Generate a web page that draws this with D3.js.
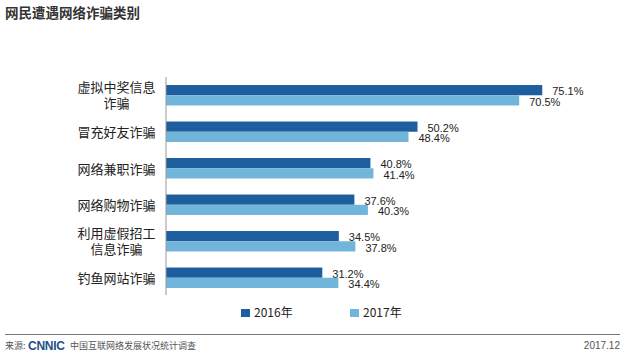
<!DOCTYPE html>
<html>
<head>
<meta charset="utf-8">
<script src="https://cdn.jsdelivr.net/npm/d3@7"></script>
<style>
  body { margin: 0; background: #fff; }
  svg { display: block; font-family: "Noto Sans CJK SC", "Liberation Sans", sans-serif; }
</style>
</head>
<body>
<div id="chart"></div>
<script>
// chart data
const categories = ["虚拟中奖信息\n诈骗", "冒充好友诈骗", "网络兼职诈骗", "网络购物诈骗", "利用虚假招工\n信息诈骗", "钓鱼网站诈骗"];
const seriesNames = ["2016年", "2017年"];
const values2016 = [75.1, 50.2, 40.8, 37.6, 34.5, 31.2];
const values2017 = [70.5, 48.4, 41.4, 40.3, 37.8, 34.4];
const colors = ["#1d5e9f", "#72b5da"];

const width = 630, height = 359;

const svg = d3.select("#chart")
    .append("svg")
    .attr("width", width)
    .attr("height", height);

// title
svg.append("text")
    .attr("x", 5)
    .attr("y", 18)
    .attr("font-size", 13.5)
    .attr("font-weight", "bold")
    .attr("fill", "#333")
    .text("网民遭遇网络诈骗类别");

// scales
const xScale = d3.scaleLinear()
    .domain([0, 100])
    .range([166, 667]);

const yScale = d3.scaleBand()
    .domain(categories)
    .range([77, 296])
    .paddingInner(0.44)
    .paddingOuter(0.22);

const ySub = d3.scaleBand()
    .domain(seriesNames)
    .range([0, yScale.bandwidth()]);

const series = [values2016, values2017];

// bars + value labels
series.forEach((vals, si) => {
    const g = svg.append("g");
    g.selectAll("rect")
        .data(vals)
        .join("rect")
        .attr("x", xScale(0))
        .attr("y", (d, i) => yScale(categories[i]) + ySub(seriesNames[si]))
        .attr("width", d => xScale(d) - xScale(0))
        .attr("height", ySub.bandwidth())
        .attr("fill", colors[si]);

    g.selectAll("text")
        .data(vals)
        .join("text")
        .attr("x", d => xScale(d) + 10)
        .attr("y", (d, i) => yScale(categories[i]) + ySub(seriesNames[si]) + ySub.bandwidth() / 2 + 1.5)
        .attr("dy", "0.35em")
        .attr("font-family", "Liberation Sans, Arial, sans-serif")
        .attr("font-size", 11)
        .attr("fill", "#222")
        .text(d => d.toFixed(1) + "%");
});

// y axis line
svg.append("line")
    .attr("x1", xScale(0)).attr("x2", xScale(0))
    .attr("y1", 77).attr("y2", 295)
    .attr("stroke", "#999")
    .attr("stroke-width", 1);

// category labels (one text per line)
categories.forEach(c => {
    const lines = c.split("\n");
    const cy = yScale(c) + yScale.bandwidth() / 2;
    lines.forEach((ln, li) => {
        const off = lines.length === 1 ? 1 : (li === 0 ? -8 : 8);
        svg.append("text")
            .attr("x", 116.5)
            .attr("y", cy + off)
            .attr("dy", "0.35em")
            .attr("text-anchor", "middle")
            .attr("font-size", 13)
            .attr("fill", "#222")
            .text(ln);
    });
});

// legend
const legendX = [241, 350];
const legend = svg.append("g")
    .selectAll("g")
    .data(seriesNames)
    .join("g")
    .attr("transform", (d, i) => `translate(${legendX[i]},309)`);

legend.append("rect")
    .attr("width", 9)
    .attr("height", 8)
    .attr("fill", (d, i) => colors[i]);

legend.append("text")
    .attr("x", 13)
    .attr("y", 4)
    .attr("dy", "0.35em")
    .attr("font-size", 12)
    .attr("fill", "#222")
    .text(d => d);

// footer
svg.append("line")
    .attr("x1", 5).attr("x2", 620)
    .attr("y1", 334.5).attr("y2", 334.5)
    .attr("stroke", "#777")
    .attr("stroke-width", 1);

svg.append("text")
    .attr("x", 5)
    .attr("y", 349)
    .attr("font-size", 9)
    .attr("fill", "#555")
    .text("来源:");

svg.append("text")
    .attr("x", 28)
    .attr("y", 350)
    .attr("font-family", "Liberation Sans, Arial, sans-serif")
    .attr("font-weight", "bold")
    .attr("font-size", 12)
    .attr("fill", "#1f4f86")
    .attr("textLength", 37)
    .text("CNNIC");

svg.append("text")
    .attr("x", 70)
    .attr("y", 349)
    .attr("font-size", 9)
    .attr("fill", "#555")
    .text("中国互联网络发展状况统计调查");

svg.append("text")
    .attr("x", 620)
    .attr("y", 349)
    .attr("text-anchor", "end")
    .attr("font-family", "Liberation Sans, Arial, sans-serif")
    .attr("font-size", 10)
    .attr("fill", "#555")
    .text("2017.12");
</script>
</body>
</html>
